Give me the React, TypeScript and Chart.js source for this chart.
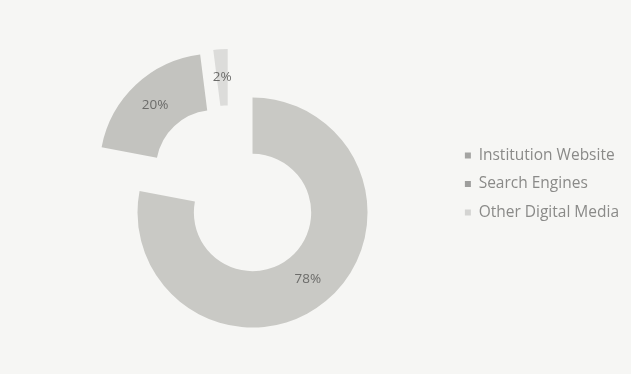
import React, { useEffect, useRef } from 'react';
import { Chart, registerables } from 'chart.js';

Chart.register(...registerables);

// Where visitors found the programme
const categories = ['Institution Website', 'Search Engines', 'Other Digital Media'];
const shares = [78, 20, 2];
const sliceColors = ['#c9c9c5', '#c3c3bf', '#dcdcda'];
const legendSwatches = ['#a4a4a2', '#9e9e9c', '#d4d4d2'];
// How far each segment is pulled out from the centre, in px
const explode = [37, 21, 20];

// Pull every segment outwards along its own bisector
const explodeSlices = {
  id: 'explodeSlices',
  afterDatasetUpdate(_chart: any, args: any) {
    args.meta.data.forEach((arc: any, i: number) => {
      const d = explode[i] || 0;
      const mid = (arc.startAngle + arc.endAngle) / 2;
      arc.x += Math.cos(mid) * d;
      arc.y += Math.sin(mid) * d;
    });
  },
};

// Percent labels placed at the middle of each ring segment
const sliceLabels = {
  id: 'sliceLabels',
  afterDatasetsDraw(chart: any) {
    const { ctx } = chart;
    const meta = chart.getDatasetMeta(0);
    const values = chart.data.datasets[0].data as number[];
    ctx.save();
    ctx.font = '13.5px "Open Sans", sans-serif';
    ctx.fillStyle = '#6c6c6a';
    ctx.textAlign = 'center';
    ctx.textBaseline = 'middle';
    meta.data.forEach((arc: any, i: number) => {
      const p = arc.getCenterPoint(true);
      ctx.fillText(`${values[i]}%`, p.x, p.y);
    });
    ctx.restore();
  },
};

export default function App() {
  const canvasRef = useRef<HTMLCanvasElement | null>(null);

  useEffect(() => {
    if (!canvasRef.current) return;
    const chart = new Chart(canvasRef.current, {
      type: 'doughnut',
      data: {
        labels: categories,
        datasets: [
          {
            data: shares,
            backgroundColor: sliceColors,
            borderWidth: 0,
          },
        ],
      },
      options: {
        animation: false,
        responsive: true,
        maintainAspectRatio: false,
        events: [],
        radius: 115,
        cutout: '51%',
        layout: { padding: { left: 6, right: 2, top: 1, bottom: 7 } },
        plugins: {
          tooltip: { enabled: false },
          legend: {
            position: 'right',
            labels: {
              boxWidth: 6,
              boxHeight: 6,
              padding: 13,
              color: '#8a8a88',
              font: { family: '"Open Sans", sans-serif', size: 15.5 },
              generateLabels: (c: any) =>
                (c.data.labels as string[]).map((text, i) => ({
                  text,
                  fillStyle: legendSwatches[i],
                  strokeStyle: legendSwatches[i],
                  lineWidth: 0,
                  fontColor: '#8a8a88',
                  hidden: false,
                  index: i,
                })),
            },
          },
        },
      },
      plugins: [explodeSlices, sliceLabels],
    });
    return () => chart.destroy();
  }, []);

  return (
    <div
      style={{
        position: 'absolute',
        left: 0,
        top: 0,
        width: 631,
        height: 374,
        background: '#f6f6f4',
      }}
    >
      <canvas ref={canvasRef} />
    </div>
  );
}
